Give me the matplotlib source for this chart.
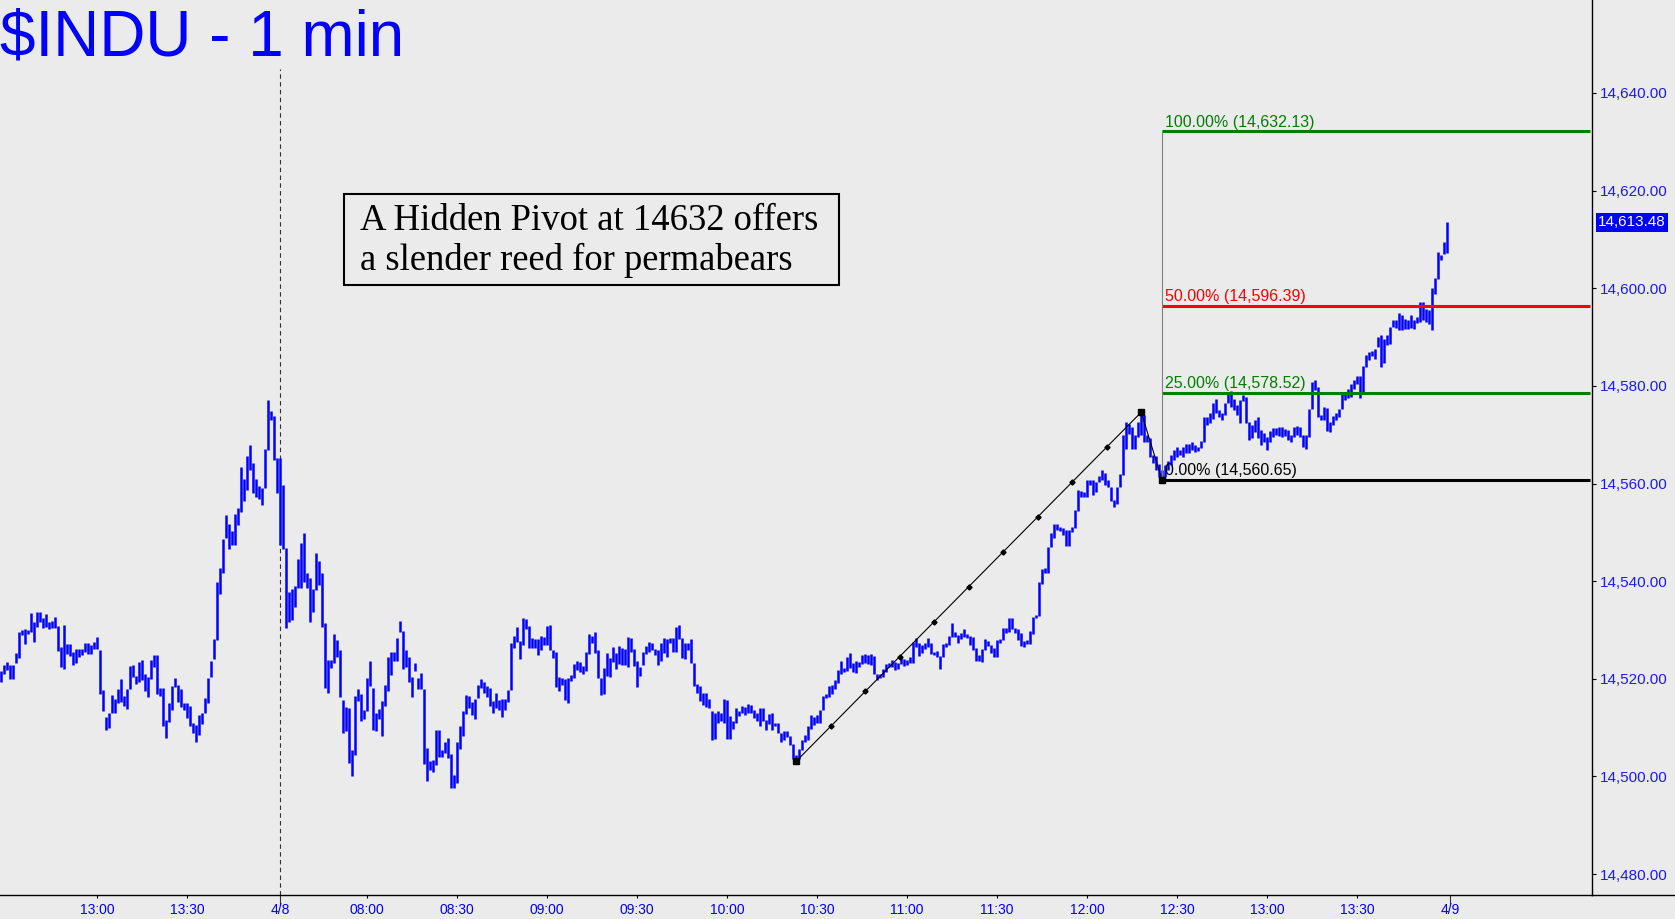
import numpy as np
import matplotlib
matplotlib.use("Agg")
import matplotlib.pyplot as plt
import matplotlib.transforms as mtransforms
from matplotlib.patches import Rectangle
from matplotlib.lines import Line2D

# 1-min bars : index 0 = 12:28 (previous day), index 93 = 4/8 07:31
highs = [
    14521.6, 14522.8, 14523.5, 14522.8, 14522.8, 14525.2, 14529.6, 14530.0, 14530.1, 14530.0,
    14533.5, 14531.7, 14533.7, 14533.6, 14532.4, 14533.3, 14531.7, 14531.8, 14532.6, 14530.8,
    14526.6, 14531.0, 14527.1, 14527.1, 14525.5, 14526.1, 14526.1, 14526.1, 14527.4, 14527.3,
    14526.9, 14527.6, 14528.5, 14525.9, 14517.7, 14512.2, 14512.9, 14516.7, 14515.8, 14518.0,
    14519.9, 14516.5, 14518.0, 14522.6, 14522.9, 14520.6, 14523.5, 14523.8, 14520.9, 14520.3,
    14523.8, 14524.9, 14524.9, 14518.2, 14518.2, 14511.5, 14515.1, 14518.6, 14520.1, 14518.7,
    14518.0, 14515.0, 14515.1, 14514.4, 14511.0, 14510.5, 14512.6, 14512.9, 14516.0, 14520.1,
    14523.7, 14528.1, 14539.8, 14542.7, 14548.6, 14553.5, 14551.7, 14550.3, 14553.7, 14554.9,
    14563.3, 14561.0, 14565.7, 14567.9, 14564.3, 14560.9, 14559.5, 14559.1, 14567.1, 14577.2,
    14574.8, 14573.8, 14565.3, 14565.3, 14559.6, 14546.7, 14537.8, 14538.3, 14539.0, 14544.6,
    14547.9, 14549.8, 14541.6, 14540.6, 14538.3, 14545.7, 14544.2, 14541.7, 14531.4, 14523.8,
    14523.8, 14529.2, 14527.9, 14525.9, 14515.6, 14514.3, 14514.1, 14505.5, 14516.5, 14518.0,
    14516.9, 14513.6, 14520.2, 14523.6, 14518.2, 14512.9, 14513.9, 14515.4, 14518.7, 14524.4,
    14525.5, 14525.5, 14528.3, 14531.9, 14529.8, 14525.9, 14524.4, 14520.3, 14523.2, 14520.1,
    14521.2, 14518.0, 14505.9, 14503.1, 14503.3, 14509.4, 14509.4, 14505.5, 14507.1, 14507.9,
    14504.6, 14500.3, 14507.1, 14510.3, 14513.3, 14516.7, 14516.5, 14515.3, 14515.8, 14518.7,
    14519.9, 14519.4, 14518.5, 14518.2, 14515.4, 14517.0, 14515.6, 14515.8, 14515.8, 14517.6,
    14527.3, 14528.8, 14530.7, 14527.8, 14532.4, 14532.2, 14530.8, 14528.3, 14528.1, 14528.1,
    14528.8, 14528.6, 14530.8, 14531.0, 14525.9, 14525.5, 14520.4, 14520.1, 14519.9, 14520.1,
    14520.8, 14523.0, 14523.6, 14523.4, 14522.6, 14525.5, 14529.2, 14528.8, 14529.6, 14525.9,
    14520.1, 14522.3, 14525.3, 14524.2, 14526.6, 14525.2, 14526.7, 14526.2, 14526.0, 14528.5,
    14528.3, 14526.0, 14523.6, 14522.5, 14525.5, 14526.7, 14527.6, 14527.4, 14526.0, 14525.9,
    14527.4, 14528.3, 14528.1, 14528.3, 14528.3, 14530.7, 14531.1, 14528.3, 14527.3, 14527.4,
    14528.1, 14523.3, 14518.9, 14518.5, 14517.0, 14517.0, 14515.8, 14513.4, 14512.9, 14513.3,
    14512.9, 14515.8, 14515.6, 14512.4, 14511.4, 14514.1, 14513.3, 14514.4, 14514.3, 14514.8,
    14514.6, 14513.6, 14512.9, 14514.1, 14514.1, 14511.5, 14512.8, 14513.0, 14511.0, 14510.9,
    14508.8, 14509.2, 14509.2, 14508.3, 14506.6, 14504.4, 14505.7, 14507.5, 14508.5, 14510.3,
    14512.6, 14512.2, 14512.6, 14513.7, 14516.5, 14516.9, 14518.5, 14518.7, 14519.7, 14521.7,
    14523.7, 14522.3, 14524.5, 14525.3, 14523.3, 14523.7, 14523.5, 14524.9, 14525.1, 14524.9,
    14525.1, 14524.7, 14521.0, 14521.0, 14522.1, 14523.0, 14523.3, 14523.8, 14523.5, 14523.2,
    14524.7, 14524.0, 14523.8, 14524.4, 14527.6, 14528.3, 14527.4, 14527.0, 14527.3, 14528.3,
    14527.4, 14525.5, 14525.7, 14524.7, 14527.1, 14527.4, 14528.8, 14531.5, 14529.6, 14529.0,
    14529.3, 14530.1, 14529.2, 14528.8, 14528.6, 14526.4, 14524.9, 14526.0, 14528.1, 14527.8,
    14526.9, 14526.4, 14527.9, 14528.1, 14530.3, 14530.3, 14532.4, 14532.4, 14530.3, 14530.1,
    14529.4, 14527.8, 14527.9, 14529.8, 14532.6, 14533.1, 14539.9, 14542.4, 14542.6, 14547.0,
    14549.9, 14551.8, 14551.7, 14551.1, 14550.8, 14550.5, 14550.5, 14551.1, 14554.6, 14558.7,
    14558.5, 14558.3, 14560.7, 14560.8, 14560.7, 14560.4, 14561.5, 14562.8, 14562.1, 14560.7,
    14559.2, 14556.7, 14559.2, 14561.9, 14569.9, 14572.7, 14572.2, 14571.5, 14570.0, 14572.7,
    14574.6, 14574.0, 14569.9, 14569.3, 14565.8, 14565.6, 14564.0, 14562.8, 14563.8, 14564.7,
    14565.8, 14566.9, 14567.4, 14566.9, 14567.4, 14568.1, 14568.1, 14568.4, 14567.9, 14567.4,
    14568.8, 14573.7, 14573.6, 14574.4, 14576.4, 14577.4, 14575.1, 14574.5, 14576.4, 14578.3,
    14579.0, 14577.4, 14576.1, 14577.1, 14578.1, 14577.8, 14572.7, 14572.0, 14573.0, 14573.7,
    14571.0, 14570.3, 14569.6, 14570.8, 14571.3, 14571.3, 14571.5, 14571.6, 14571.1, 14571.0,
    14569.9, 14571.6, 14571.7, 14571.6, 14569.9, 14569.9, 14575.2, 14580.7, 14581.3, 14579.7,
    14574.0, 14575.6, 14575.4, 14572.7, 14573.8, 14574.4, 14575.2, 14578.6, 14578.8, 14579.3,
    14580.4, 14581.2, 14582.0, 14582.0, 14584.1, 14586.3, 14587.0, 14587.2, 14587.5, 14590.0,
    14590.4, 14589.5, 14590.4, 14592.1, 14593.4, 14593.4, 14594.9, 14594.5, 14593.8, 14593.4,
    14594.5, 14593.4, 14594.2, 14597.2, 14597.2, 14595.7, 14595.5, 14600.0, 14602.2, 14607.5,
    14606.8, 14609.5, 14613.5,
]

lows = [
    14519.4, 14521.0, 14521.8, 14519.9, 14519.9, 14523.2, 14524.2, 14529.0, 14527.1, 14529.1,
    14529.6, 14527.6, 14530.7, 14531.7, 14530.5, 14530.7, 14530.1, 14530.5, 14530.3, 14525.7,
    14522.5, 14522.1, 14525.1, 14524.7, 14522.9, 14523.2, 14524.5, 14524.9, 14525.5, 14525.1,
    14525.0, 14526.0, 14526.0, 14516.8, 14513.4, 14509.5, 14510.0, 14512.9, 14512.9, 14515.0,
    14515.3, 14514.4, 14513.9, 14517.9, 14520.3, 14518.9, 14519.4, 14519.7, 14517.4, 14516.2,
    14519.9, 14522.5, 14516.8, 14516.5, 14510.3, 14507.9, 14511.2, 14513.5, 14518.4, 14515.2,
    14514.3, 14513.5, 14511.9, 14510.3, 14508.8, 14507.1, 14508.5, 14510.7, 14512.9, 14515.1,
    14520.4, 14524.0, 14527.9, 14537.3, 14541.7, 14548.8, 14546.5, 14547.5, 14547.5, 14551.5,
    14554.2, 14556.5, 14558.7, 14562.8, 14558.1, 14557.3, 14556.8, 14555.5, 14559.0, 14566.9,
    14573.0, 14564.8, 14558.1, 14547.4, 14546.6, 14530.3, 14531.7, 14532.0, 14534.8, 14538.5,
    14538.5, 14539.9, 14538.5, 14531.7, 14533.7, 14538.2, 14539.2, 14530.7, 14518.2, 14517.1,
    14522.3, 14523.2, 14524.5, 14516.2, 14508.8, 14509.2, 14502.7, 14500.1, 14504.4, 14515.5,
    14511.4, 14511.8, 14513.3, 14518.6, 14509.4, 14509.2, 14511.7, 14508.3, 14514.4, 14517.4,
    14520.8, 14523.7, 14523.7, 14529.5, 14522.0, 14522.5, 14519.4, 14516.3, 14521.6, 14518.0,
    14518.0, 14502.5, 14499.1, 14501.4, 14500.8, 14502.3, 14504.0, 14504.0, 14504.7, 14503.7,
    14497.6, 14497.6, 14498.6, 14505.7, 14508.3, 14512.8, 14514.1, 14512.6, 14511.7, 14516.0,
    14518.2, 14517.1, 14516.2, 14514.4, 14513.0, 14514.1, 14513.5, 14512.2, 14513.5, 14515.3,
    14517.7, 14526.4, 14527.6, 14524.1, 14526.9, 14530.1, 14526.2, 14526.2, 14526.2, 14524.9,
    14525.9, 14526.9, 14526.9, 14525.9, 14524.2, 14518.4, 14517.4, 14518.7, 14515.6, 14515.1,
    14519.6, 14520.1, 14521.8, 14521.4, 14521.0, 14521.6, 14525.1, 14527.4, 14525.3, 14520.1,
    14516.7, 14516.9, 14520.6, 14520.4, 14523.5, 14521.9, 14523.0, 14522.8, 14522.8, 14522.5,
    14525.5, 14522.6, 14518.4, 14520.6, 14522.8, 14525.1, 14525.5, 14525.9, 14524.9, 14522.9,
    14523.7, 14525.2, 14524.5, 14527.3, 14525.5, 14525.5, 14528.1, 14524.2, 14524.0, 14525.9,
    14523.3, 14518.5, 14517.1, 14515.5, 14514.6, 14514.3, 14514.1, 14507.5, 14507.6, 14511.0,
    14511.4, 14511.0, 14507.6, 14507.6, 14509.8, 14510.9, 14512.4, 14512.9, 14512.6, 14513.0,
    14512.9, 14511.9, 14511.4, 14510.3, 14511.4, 14509.6, 14510.7, 14509.6, 14510.3, 14508.8,
    14507.1, 14507.5, 14508.0, 14506.4, 14503.5, 14503.1, 14503.5, 14505.4, 14507.1, 14507.5,
    14509.8, 14510.5, 14510.9, 14511.0, 14513.5, 14516.0, 14516.2, 14516.9, 14517.8, 14519.1,
    14521.0, 14521.4, 14521.6, 14522.3, 14521.4, 14521.2, 14522.5, 14523.0, 14523.2, 14523.0,
    14522.8, 14521.0, 14519.7, 14520.1, 14520.3, 14521.4, 14522.5, 14522.5, 14521.8, 14522.1,
    14523.0, 14522.6, 14522.8, 14523.2, 14523.3, 14526.6, 14524.7, 14525.2, 14526.0, 14526.6,
    14525.1, 14524.9, 14524.5, 14522.1, 14524.4, 14526.6, 14526.9, 14528.6, 14528.5, 14527.4,
    14528.1, 14528.6, 14528.3, 14526.9, 14525.9, 14523.7, 14523.7, 14523.5, 14525.9, 14526.7,
    14525.2, 14524.4, 14524.4, 14527.3, 14527.9, 14529.4, 14529.6, 14530.1, 14529.3, 14527.9,
    14526.7, 14526.6, 14527.1, 14527.1, 14529.2, 14532.4, 14532.8, 14539.5, 14541.6, 14541.7,
    14546.9, 14548.8, 14550.5, 14550.3, 14549.4, 14547.2, 14547.2, 14550.1, 14550.8, 14554.4,
    14557.3, 14557.2, 14557.2, 14559.7, 14557.6, 14558.3, 14560.4, 14560.7, 14559.7, 14559.2,
    14556.5, 14555.1, 14555.8, 14559.2, 14561.7, 14567.0, 14570.1, 14567.0, 14567.0, 14569.6,
    14569.9, 14568.6, 14568.6, 14565.4, 14564.1, 14562.8, 14561.4, 14560.65, 14561.4, 14562.8,
    14563.8, 14564.8, 14565.4, 14565.8, 14565.4, 14566.2, 14566.3, 14566.9, 14566.5, 14566.7,
    14567.2, 14568.6, 14572.0, 14572.3, 14573.3, 14574.4, 14573.7, 14573.0, 14574.0, 14576.4,
    14575.7, 14575.1, 14574.0, 14572.3, 14577.0, 14572.3, 14568.9, 14569.3, 14570.6, 14569.3,
    14567.9, 14568.6, 14566.9, 14568.6, 14569.6, 14569.9, 14569.7, 14569.6, 14569.7, 14568.9,
    14568.4, 14569.5, 14570.0, 14569.5, 14567.5, 14567.0, 14569.6, 14575.2, 14579.2, 14573.7,
    14573.1, 14573.0, 14570.8, 14570.6, 14572.0, 14573.1, 14573.7, 14575.2, 14577.1, 14577.5,
    14577.8, 14579.3, 14580.4, 14577.5, 14578.6, 14583.9, 14585.2, 14586.1, 14585.6, 14588.0,
    14583.9, 14584.6, 14588.4, 14588.6, 14592.1, 14591.8, 14591.4, 14591.4, 14591.6, 14591.6,
    14591.8, 14591.6, 14592.9, 14593.1, 14593.5, 14593.1, 14592.7, 14591.4, 14598.8, 14601.8,
    14605.8, 14607.0, 14607.2,
]

last_price = 14613.48

# axe des x (index de barre)
time_idx = [32, 62, 122, 152, 182, 212, 242, 272, 302, 332, 362, 392, 422, 452]
time_lab = ['13:00', '13:30', '08:00', '08:30', '09:00', '09:30', '10:00',
            '10:30', '11:00', '11:30', '12:00', '12:30', '13:00', '13:30']
date_idx = [93, 483]
date_lab = ['4/8', '4/9']

# pivot A-B-C
piv_idx = [265, 380, 387]
piv_val = [14503.1, 14574.6, 14560.65]

fib_pct = ['0.00%', '25.00%', '50.00%', '100.00%']
fib_val = [14560.65, 14578.52, 14596.39, 14632.13]
fib_col = ['black', '#008000', '#ff0000', '#008000']

BG = '#ebebeb'
BLUE = '#0000ff'
LAB = '#1a1aff'

fig = plt.figure(figsize=(16.75, 9.19), dpi=100, facecolor=BG)
ax = fig.add_axes([0, 24 / 919, 1592 / 1675, 895 / 919], facecolor=BG)
ax.set_xlim(-0.4, 530.27)
ax.set_ylim(14475.70, 14659.05)

for s in ['top', 'left']:
    ax.spines[s].set_visible(False)
for s in ['right', 'bottom']:
    ax.spines[s].set_color('black')
    ax.spines[s].set_linewidth(1.0)
fig.add_artist(Line2D([1592 / 1675, 1], [24 / 919, 24 / 919],
                      transform=fig.transFigure, color='black', lw=1.0))

# barres OHLC (high-low)
x = np.arange(len(highs))
ax.vlines(x, lows, highs, color=BLUE, lw=1.8, zorder=2)

# séparateur de séance
ax.plot([date_idx[0], date_idx[0]], [14475.70, 14644.9], color='#333333',
        lw=0.8, ls=(0, (4, 3)), zorder=1)

# niveaux du Hidden Pivot
x_end = 529.6
for pct, v, c in zip(fib_pct, fib_val, fib_col):
    ax.hlines(v, piv_idx[2], x_end, color=c, lw=2.2, zorder=3)
    ax.text(piv_idx[2] + 0.9, v + 1.0, f'{pct} ({v:,.2f})', color=c,
            fontsize=11.5, family='Liberation Sans', va='baseline', zorder=3)
ax.plot([piv_idx[2], piv_idx[2]], [piv_val[2], fib_val[-1]], color='#808080',
        lw=0.8, zorder=3)

# A-B-C
ax.plot(piv_idx, piv_val, color='black', lw=0.8, zorder=4)
xd = np.linspace(piv_idx[0], piv_idx[1], 11)[1:-1]
yd = np.linspace(piv_val[0], piv_val[1], 11)[1:-1]
ax.plot(xd, yd, 'D', ms=2.6, color='black', zorder=4)
ax.plot(piv_idx, piv_val, 's', ms=5, color='black', zorder=5)

# axe des prix à droite
ax.yaxis.tick_right()
yt = np.arange(14480, 14641, 20)
ax.set_yticks(yt)
ax.set_yticklabels([f'{v:,.2f}' for v in yt], family='Liberation Sans')
ax.tick_params(axis='y', direction='out', length=3, width=0.8, colors='black',
               labelcolor=LAB, labelsize=11, pad=2.5)

ax.set_xticks(time_idx)
ax.set_xticklabels(time_lab, family='Liberation Sans')
ax.set_xticks(date_idx, minor=True)
ax.set_xticklabels(date_lab, minor=True, family='Liberation Sans')
ax.tick_params(axis='x', which='major', direction='out', length=2.5, width=0.8,
               colors='black', labelcolor=BLUE, labelsize=10, pad=3)
ax.tick_params(axis='x', which='minor', direction='out', length=7, width=0.8,
               colors='#333333', labelcolor=BLUE, labelsize=10, pad=-1.5)

# étiquette du dernier cours
trans = mtransforms.blended_transform_factory(ax.transAxes, ax.transData)
ax.text(1 + 6 / 1592, last_price, f'{last_price:,.2f}', transform=trans,
        ha='left', va='center', color='white', fontsize=11,
        family='Liberation Sans',
        bbox=dict(boxstyle='square,pad=0.15', fc=BLUE, ec='none'), clip_on=False)

# titre
fig.text(0, 1 - 56 / 919, '$INDU - 1 min', color=BLUE, fontsize=46,
         family='Liberation Sans', va='baseline', ha='left')

# encadré
fig.add_artist(Rectangle((344 / 1675, 1 - 285 / 919), 495 / 1675, 91 / 919,
                         transform=fig.transFigure, fc=BG, ec='black', lw=1.5))
fig.text(360 / 1675, 1 - 229.7 / 919, 'A Hidden Pivot at 14632 offers',
         family='Liberation Serif', fontsize=26.4, va='baseline')
fig.text(360 / 1675, 1 - 270 / 919, 'a slender reed for permabears',
         family='Liberation Serif', fontsize=26.4, va='baseline')

plt.savefig('out.png', dpi=100, facecolor=BG)
